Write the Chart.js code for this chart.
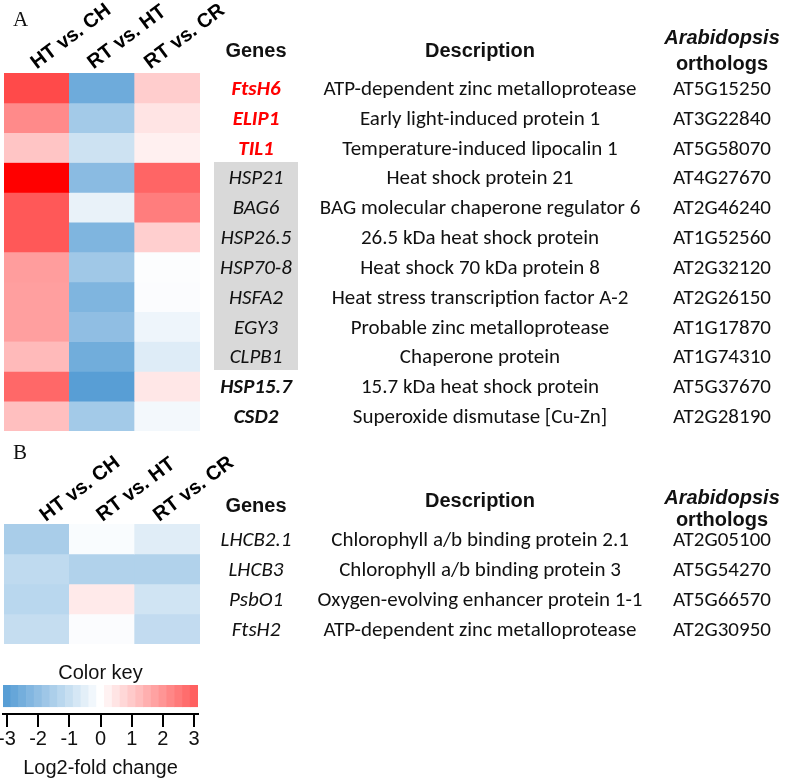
<!DOCTYPE html>
<html lang="en">
<head>
    <meta charset="utf-8">
    <script src="https://cdn.jsdelivr.net/npm/chart.js"></script>
    <title>Heat stress genes heatmap</title>
    <style>
        html, body {
            margin: 0;
            padding: 0;
            background: #fff;
        }
        #page {
            position: relative;
            width: 787px;
            height: 780px;
            overflow: hidden;
            color: #111;
        }
        .box {
            position: absolute;
            left: 0;
        }
        .tag {
            position: absolute;
            font-family: 'Liberation Serif', 'DejaVu Serif', serif;
            font-size: 21px;
            line-height: 1;
        }
        .head {
            position: absolute;
            font-family: 'Liberation Sans', Arial, sans-serif;
            font-weight: bold;
            font-size: 20px;
            line-height: 1;
            text-align: center;
            white-space: nowrap;
            transform: translate(-50%, -50%);
        }
        .cell {
            position: absolute;
            font-family: Carlito, Lato, sans-serif;
            font-size: 21px;
            line-height: 1;
            white-space: nowrap;
            transform: translate(-50%, -50%);
        }
        .gene { font-style: italic; }
        .gene.red { color: #ff0000; font-weight: bold; }
        .gene.strong { font-weight: bold; }
        .graybox {
            position: absolute;
            background: #d9d9d9;
        }
    </style>
</head>
<body>
<div id="page">
    <div class="box" style="top:0;width:787px;height:440px"><canvas id="heatA" width="787" height="440"></canvas></div>
    <div class="box" style="top:440px;width:787px;height:210px"><canvas id="heatB" width="787" height="210"></canvas></div>
    <div class="box" style="top:660px;width:202px;height:120px"><canvas id="keyChart" width="202" height="120"></canvas></div>
    <div id="textLayer"></div>
</div>

<script>
    // comparisons (columns)
    const comparisons = ['HT vs. CH', 'RT vs. HT', 'RT vs. CR'];

    // panel A
    const genesA = ['FtsH6', 'ELIP1', 'TIL1', 'HSP21', 'BAG6', 'HSP26.5', 'HSP70-8', 'HSFA2', 'EGY3', 'CLPB1', 'HSP15.7', 'CSD2'];
    const descA = [
        'ATP-dependent zinc metalloprotease',
        'Early light-induced protein 1',
        'Temperature-induced lipocalin 1',
        'Heat shock protein 21',
        'BAG molecular chaperone regulator 6',
        '26.5 kDa heat shock protein',
        'Heat shock 70 kDa protein 8',
        'Heat stress transcription factor A-2',
        'Probable zinc metalloprotease',
        'Chaperone protein',
        '15.7 kDa heat shock protein',
        'Superoxide dismutase [Cu-Zn]'
    ];
    const orthoA = ['AT5G15250', 'AT3G22840', 'AT5G58070', 'AT4G27670', 'AT2G46240', 'AT1G52560',
                    'AT2G32120', 'AT2G26150', 'AT1G17870', 'AT1G74310', 'AT5G37670', 'AT2G28190'];
    const htVsChA = [3.4, 2.2, 1.1, 4.8, 3.15, 3.15, 1.85, 1.8, 1.8, 1.3, 2.85, 1.2];
    const rtVsHtA = [-2.6, -1.65, -0.9, -2.1, -0.4, -2.3, -1.7, -2.3, -2.0, -2.55, -3.0, -1.65];
    const rtVsCrA = [0.95, 0.5, 0.28, 2.9, 2.45, 0.9, -0.05, -0.08, -0.3, -0.6, 0.45, -0.22];

    // panel B
    const genesB = ['LHCB2.1', 'LHCB3', 'PsbO1', 'FtsH2'];
    const descB = [
        'Chlorophyll a/b binding protein 2.1',
        'Chlorophyll a/b binding protein 3',
        'Oxygen-evolving enhancer protein 1-1',
        'ATP-dependent zinc metalloprotease'
    ];
    const orthoB = ['AT2G05100', 'AT5G54270', 'AT5G66570', 'AT2G30950'];
    const htVsChB = [-1.55, -1.15, -1.25, -1.05];
    const rtVsHtB = [-0.1, -1.4, 0.4, -0.08];
    const rtVsCrB = [-0.55, -1.4, -0.85, -1.1];

    // gene highlight groups
    const redGenes = ['FtsH6', 'ELIP1', 'TIL1'];
    const boxedGenes = ['HSP21', 'BAG6', 'HSP26.5', 'HSP70-8', 'HSFA2', 'EGY3', 'CLPB1'];
    const boldGenes = ['HSP15.7', 'CSD2'];

    // colour key
    const keySteps = [-3, -2.75, -2.5, -2.25, -2, -1.75, -1.5, -1.25, -1, -0.75, -0.5, -0.25, 0,
                      0.25, 0.5, 0.75, 1, 1.25, 1.5, 1.75, 2, 2.25, 2.5, 2.75, 3];
    const keyTicks = [-3, -2, -1, 0, 1, 2, 3];

    const BLUE = [88, 158, 213];
    function cellColor(v) {
        if (v >= 0) {
            const t = Math.min(v / 4.8, 1);
            const c = Math.round(255 * (1 - t));
            return `rgb(255,${c},${c})`;
        }
        const t = Math.min(-v / 3, 1);
        const mix = i => Math.round(255 + (BLUE[i] - 255) * t);
        return `rgb(${mix(0)},${mix(1)},${mix(2)})`;
    }

    Chart.defaults.font.family = "'Liberation Sans', Arial, sans-serif";
    Chart.defaults.color = '#111';

    // slanted column labels: drawn from the x scale tick positions,
    // packed a bit tighter than the columns like in the figure
    const slantLabels = {
        id: 'slantLabels',
        afterDraw(chart, args, opts) {
            const scale = chart.scales.x;
            const ctx = chart.ctx;
            const y = chart.chartArea.top - opts.lift;
            ctx.save();
            ctx.font = "bold 20px 'Liberation Sans', Arial, sans-serif";
            ctx.fillStyle = '#000';
            ctx.textAlign = 'left';
            ctx.textBaseline = 'alphabetic';
            scale.getLabels().forEach((label, i) => {
                const x = scale.getPixelForTick(i) + opts.shift - opts.squeeze * i;
                ctx.save();
                ctx.translate(x, y);
                ctx.rotate(-opts.angle * Math.PI / 180);
                ctx.fillText(label, 0, 0);
                ctx.restore();
            });
            ctx.restore();
        }
    };

    function createHeatmap(canvasId, genes, columns, topAxis, bottomPad, labelOpts) {
        const datasets = genes.map((gene, r) => ({
            label: gene,
            data: columns.map(() => [r, r + 1]),
            backgroundColor: columns.map(col => cellColor(col[r])),
            borderWidth: 0,
            barPercentage: 1,
            categoryPercentage: 1
        }));
        const ctx = document.getElementById(canvasId).getContext('2d');
        return new Chart(ctx, {
            type: 'bar',
            data: { labels: comparisons, datasets: datasets },
            plugins: [slantLabels],
            options: {
                responsive: false,
                animation: false,
                devicePixelRatio: 1,
                layout: { padding: { left: 4, right: 587, top: 0, bottom: bottomPad } },
                plugins: {
                    legend: { display: false },
                    tooltip: { enabled: false },
                    slantLabels: labelOpts
                },
                scales: {
                    x: {
                        position: 'top',
                        stacked: true,
                        grid: { display: false, drawTicks: false },
                        border: { display: false },
                        ticks: { display: false },
                        afterFit: scale => {
                            scale.height = topAxis;
                            scale.paddingLeft = 0;
                            scale.paddingRight = 0;
                        }
                    },
                    y: {
                        display: false,
                        min: 0,
                        max: genes.length,
                        reverse: true
                    }
                }
            }
        });
    }

    const heatA = createHeatmap('heatA', genesA, [htVsChA, rtVsHtA, rtVsCrA], 73, 9,
        { angle: 37, shift: 0, squeeze: 8.5, lift: 3.5 });
    const heatB = createHeatmap('heatB', genesB, [htVsChB, rtVsHtB, rtVsCrB], 84, 6,
        { angle: 37, shift: 9, squeeze: 8.5, lift: 2 });

    const keyChart = new Chart(document.getElementById('keyChart').getContext('2d'), {
        type: 'bar',
        data: {
            datasets: [{
                data: keySteps.map(v => ({ x: v, y: [0.25, 1] })),
                backgroundColor: keySteps.map(cellColor),
                borderWidth: 0,
                barPercentage: 1,
                categoryPercentage: 1
            }]
        },
        options: {
            responsive: false,
            animation: false,
            devicePixelRatio: 1,
            layout: { padding: { left: 3, right: 4, top: 0, bottom: 0 } },
            plugins: {
                legend: { display: false },
                tooltip: { enabled: false },
                title: {
                    display: true,
                    text: 'Color key',
                    color: '#111',
                    font: { size: 20, weight: 'normal' },
                    padding: { top: 1, bottom: 0 }
                }
            },
            scales: {
                x: {
                    type: 'linear',
                    min: -3.125,
                    max: 3.125,
                    offset: false,
                    grid: { display: true, offset: false, drawOnChartArea: false, drawTicks: true, tickLength: 13, color: '#000', lineWidth: 2 },
                    border: { display: true, color: '#000', width: 2 },
                    afterBuildTicks: scale => { scale.ticks = keyTicks.map(v => ({ value: v })); },
                    ticks: { padding: 0, color: '#111', font: { size: 20 } },
                    title: { display: true, text: 'Log2-fold change', color: '#111', font: { size: 20 }, padding: { top: 4, bottom: 0 } },
                    afterFit: scale => {
                        scale.height = 66;
                        scale.paddingLeft = 0;
                        scale.paddingRight = 0;
                    }
                },
                y: { display: false, min: 0, max: 1 }
            }
        }
    });

    // text table, rows placed from the heatmap y scales
    const layer = document.getElementById('textLayer');
    function addDiv(cls, text, x, y) {
        const d = document.createElement('div');
        d.className = cls;
        d.textContent = text;
        d.style.left = x + 'px';
        d.style.top = y + 'px';
        layer.appendChild(d);
        return d;
    }

    const GENE_X = 256, DESC_X = 480, ORTHO_X = 722;

    function addTable(chart, canvasTop, genes, desc, ortho, headY) {
        const yScale = chart.scales.y;
        const rowY = r => canvasTop + yScale.getPixelForValue(r + 0.5);
        const boxed = genes.map((g, r) => boxedGenes.includes(g) ? r : -1).filter(r => r >= 0);
        if (boxed.length) {
            const top = canvasTop + yScale.getPixelForValue(boxed[0]) - 1;
            const bottom = canvasTop + yScale.getPixelForValue(boxed[boxed.length - 1] + 1) - 1;
            const box = document.createElement('div');
            box.className = 'graybox';
            Object.assign(box.style, { left: '214px', width: '84px', top: top + 'px', height: (bottom - top) + 'px' });
            layer.appendChild(box);
        }
        addDiv('head', 'Genes', GENE_X, headY.genes);
        addDiv('head', 'Description', DESC_X, headY.desc);
        const a = addDiv('head', 'Arabidopsis', ORTHO_X, headY.ortho1);
        a.style.fontStyle = 'italic';
        addDiv('head', 'orthologs', ORTHO_X, headY.ortho2);
        genes.forEach((g, r) => {
            let cls = 'cell gene';
            if (redGenes.includes(g)) cls += ' red';
            if (boldGenes.includes(g)) cls += ' strong';
            addDiv(cls, g, GENE_X, rowY(r));
            addDiv('cell', desc[r], DESC_X, rowY(r));
            addDiv('cell', ortho[r], ORTHO_X, rowY(r));
        });
    }

    addTable(heatA, 0, genesA, descA, orthoA, { genes: 50, desc: 50, ortho1: 37, ortho2: 63 });
    addTable(heatB, 440, genesB, descB, orthoB, { genes: 505, desc: 500, ortho1: 497, ortho2: 519 });
    addDiv('tag', 'A', 13, 9);
    addDiv('tag', 'B', 13, 442);
</script>
</body>
</html>
